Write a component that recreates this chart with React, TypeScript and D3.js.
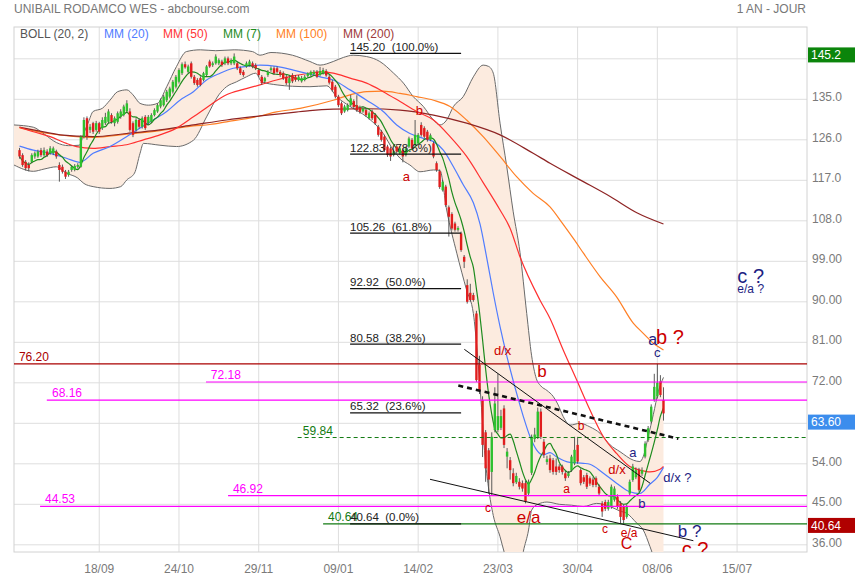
import * as d3 from 'd3';

const FONT = 'Arial, "Liberation Sans", Helvetica, sans-serif';

const dateTicks = [26, 52, 78, 104, 130, 156, 182, 208, 234];
const dateLabels = ['18/09', '24/10', '29/11', '09/01', '14/02', '23/03', '30/04', '08/06', '15/07'];
const priceTicks = [144, 135, 126, 117, 108, 99, 90, 81, 72, 63, 54, 45, 36];

// daily candles: open, high, low, close
const ohlc: number[][] = [
  [123.7,124.2,121.8,122.3],[122.6,123.0,120.0,120.4],[121.1,121.5,119.2,119.7],[120.4,121.0,119.0,119.7],[121.1,123.0,120.8,122.6],
  [122.3,123.4,121.8,123.0],[122.3,123.8,122.0,123.4],[123.7,124.2,122.2,122.6],[122.6,124.3,122.3,123.7],[123.4,123.9,122.2,122.6],
  [123.0,124.6,122.7,124.1],[123.0,124.5,122.6,124.1],[123.4,123.8,121.8,122.3],[120.4,121.0,116.7,119.3],[120.0,120.5,118.5,118.9],
  [118.9,119.3,117.3,117.8],[118.2,119.3,117.8,118.9],[119.3,120.3,118.9,120.0],[119.3,120.6,119.0,120.2],[120.0,120.8,119.6,120.4],
  [120.0,127.0,119.8,126.7],[126.7,131.0,126.3,130.4],[130.8,131.2,126.0,126.7],[128.2,129.5,127.5,128.9],[129.7,130.0,127.3,127.8],
  [128.2,130.2,127.8,129.7],[129.7,130.0,127.3,127.8],[128.6,131.0,128.2,130.4],[129.7,132.0,129.3,131.1],[130.0,132.8,129.7,132.3],
  [131.5,131.9,129.6,130.0],[129.7,131.2,129.0,130.8],[130.0,132.3,129.6,131.9],[131.1,132.8,130.7,132.3],[131.5,133.8,131.2,133.4],
  [132.3,134.8,132.0,134.1],[132.3,133.0,127.8,128.2],[129.7,130.1,126.6,127.1],[128.2,130.8,127.8,130.4],[130.4,130.8,128.5,128.9],
  [128.9,131.2,128.5,130.8],[131.1,131.5,128.2,128.6],[129.7,131.5,129.3,131.1],[130.0,131.9,129.7,131.5],[131.5,133.0,131.2,132.6],
  [132.3,134.1,132.0,133.7],[133.4,135.2,133.0,134.8],[133.7,136.0,133.4,135.6],[134.8,137.1,134.4,136.7],[135.6,137.8,135.2,137.4],
  [136.7,139.3,136.3,138.9],[137.8,140.4,137.4,140.0],[138.9,141.9,138.5,141.5],[140.8,143.2,140.4,142.8],[142.8,143.4,141.8,142.1],
  [141.1,142.7,140.8,142.3],[143.0,143.4,139.6,140.0],[140.0,140.4,138.2,138.6],[139.3,139.7,137.8,138.2],[139.7,140.1,137.9,138.2],
  [139.3,141.1,139.0,140.8],[140.4,142.6,140.0,142.3],[143.4,143.8,142.0,142.3],[142.6,143.4,142.2,143.0],[143.0,145.0,142.7,144.5],
  [143.0,144.1,142.6,143.7],[143.4,143.8,142.2,142.6],[143.0,144.5,142.6,144.1],[144.1,144.5,142.6,143.0],[143.0,144.1,142.6,143.7],
  [143.0,145.2,142.6,144.5],[143.0,143.4,141.5,141.9],[141.9,142.3,140.4,140.8],[141.1,141.5,140.0,140.4],[142.3,143.4,142.0,143.0],
  [142.6,143.8,142.3,143.4],[143.0,143.4,141.9,142.3],[142.6,143.0,141.5,141.9],[141.5,141.9,140.0,140.4],[140.0,140.4,138.2,138.6],
  [139.0,140.0,138.6,139.7],[140.4,141.5,140.0,141.1],[141.5,142.3,141.1,141.9],[141.9,142.3,140.4,140.8],[141.9,142.3,140.7,141.1],
  [141.1,141.5,140.0,140.4],[140.8,141.2,139.3,139.7],[140.0,140.4,138.2,138.6],[138.6,140.1,137.1,139.7],[140.4,140.8,138.6,139.0],
  [140.0,140.4,138.9,139.3],[139.3,140.4,139.0,140.0],[139.0,140.2,138.7,139.7],[139.3,140.4,139.0,140.0],[140.2,141.0,139.9,140.8],
  [140.4,141.4,140.1,141.1],[140.6,141.5,140.3,141.1],[141.1,141.5,139.7,140.0],[140.4,142.2,140.1,141.3],[140.8,142.0,140.5,141.5],
  [141.3,141.7,140.0,140.3],[140.0,140.4,138.3,138.7],[138.9,139.3,136.7,137.1],[137.8,138.2,135.2,135.6],[135.6,136.0,133.3,133.7],
  [134.1,134.5,131.5,131.9],[132.3,133.8,132.0,133.4],[132.6,134.1,132.3,133.7],[133.7,136.0,133.4,135.2],[134.6,135.0,132.9,133.3],
  [133.7,135.9,132.2,132.6],[133.2,133.6,131.8,132.2],[132.3,133.4,132.0,133.0],[132.6,133.0,131.1,131.5],[130.8,132.3,130.5,131.9],
  [132.3,132.7,130.4,130.8],[131.5,131.9,129.3,129.7],[128.9,129.3,126.7,127.1],[127.8,128.2,125.6,126.0],[126.7,127.1,123.3,123.7],
  [124.5,124.9,122.2,122.6],[124.1,124.5,121.3,122.3],[122.6,123.8,122.3,123.4],[124.5,124.9,123.0,123.4],[123.0,124.5,122.7,124.1],
  [123.7,124.1,121.0,122.3],[122.6,124.5,122.3,124.1],[124.5,126.7,124.2,126.3],[126.0,126.4,123.7,124.1],[124.9,130.4,124.6,127.1],
  [125.2,127.5,124.9,127.1],[129.3,129.9,126.7,127.1],[128.6,129.0,126.3,126.7],[127.8,128.2,125.6,126.0],[126.0,127.4,125.7,127.0],
  [125.2,125.6,121.9,122.3],[120.8,121.2,118.9,119.3],[119.0,119.4,115.1,115.5],[114.8,117.1,114.5,116.7],[115.6,116.0,111.1,111.5],
  [111.0,111.4,104.5,108.9],[109.5,109.9,105.9,106.3],[107.4,107.8,105.6,106.0],[106.0,106.8,105.6,106.4],[105.2,105.6,101.1,101.5],
  [100.0,100.4,97.5,98.9],[93.7,95.0,89.6,90.0],[92.0,94.0,90.0,90.4],[91.5,92.0,90.0,90.4],[87.4,88.0,72.2,72.6],
  [76.0,78.0,69.5,70.4],[68.2,69.0,55.5,58.2],[61.0,61.5,50.0,53.0],[57.0,57.5,47.4,50.5],[52.2,61.0,47.0,60.0],
  [61.5,71.0,61.0,67.4],[61.5,74.0,61.0,64.6],[62.0,66.0,61.5,64.6],[66.3,67.0,57.5,58.2],[55.6,57.5,53.0,56.7],
  [54.8,55.5,50.5,52.6],[51.9,53.0,49.0,49.7],[49.9,52.0,49.5,51.3],[50.0,50.8,48.3,48.9],[49.7,50.3,47.8,48.5],
  [49.7,50.2,45.2,45.6],[47.4,50.5,46.8,50.0],[52.0,60.5,51.5,60.0],[59.5,62.0,58.8,60.5],[60.0,66.5,59.5,65.6],
  [65.6,66.3,59.5,60.0],[58.9,59.5,55.3,56.0],[54.4,55.8,53.8,55.0],[55.2,56.0,52.0,52.6],[54.8,55.3,51.6,52.2],
  [53.4,55.2,51.5,52.2],[53.4,53.9,52.0,52.6],[53.4,53.8,51.6,52.2],[51.9,52.4,50.2,50.8],[51.3,52.4,50.9,51.9],
  [52.6,56.0,52.2,55.6],[54.1,60.0,53.7,57.1],[58.2,60.0,54.0,54.5],[52.6,53.0,49.2,49.7],[51.0,51.5,49.5,50.0],
  [51.5,52.0,48.4,48.9],[50.8,51.2,49.1,49.6],[50.5,51.0,48.8,49.3],[50.8,51.2,48.8,49.3],[48.9,49.4,46.9,47.4],
  [45.2,45.7,42.2,43.4],[45.5,46.0,43.5,44.0],[44.0,46.0,43.6,45.5],[44.5,49.4,44.0,48.9],[46.0,49.0,45.6,48.5],
  [46.7,47.2,44.0,44.5],[45.2,45.7,40.8,42.2],[44.5,45.0,40.64,41.5],[42.2,45.0,41.8,44.5],[47.4,50.5,47.0,50.0],
  [50.4,54.0,50.0,53.4],[51.0,53.2,50.6,52.6],[52.6,53.1,47.8,48.2],[51.8,53.2,51.3,52.6],[55.6,59.0,55.2,58.5],
  [59.3,62.4,58.9,61.9],[63.4,67.2,63.0,66.7],[68.2,74.0,67.8,71.1],[69.0,76.2,68.5,72.0],[72.3,73.7,68.8,69.3],
  [68.2,71.0,63.6,65.2],
];
const closes = ohlc.map(d => d[3]);

// indicator curves: [day index, value]
const bollUpper = [
  [-1.8,129.3],[4.5,128.8],[8,127.3],[12,125.4],[16,124.7],[19.5,124.8],[21,127.5],[22.5,130.0],[24,132.3],[27,133.0],
  [29.5,134.8],[32,136.7],[35,137.1],[37,136.0],[39.3,134.1],[42,133.7],[45,134.1],[48,137.8],[51.2,142.3],[54.4,145.6],
  [59,146.0],[64,145.8],[70,146.0],[76,145.6],[78.4,144.8],[82,145.4],[89,144.8],[94.7,143.4],[98,142.6],[102.3,143.4],
  [105.6,144.3],[108.8,144.8],[113.2,144.5],[117.5,143.4],[122,140.8],[125.2,138.6],[128.4,135.6],[131.7,133.4],[135,130.4],
  [137.1,129.3],[139.3,130.4],[141.5,133.4],[144.7,135.6],[148,140.0],[151.2,142.6],[153,142.3],[154.5,140.8],[156.7,129.7],
  [158.9,120.0],[161,110.0],[163.2,101.0],[165.4,87.4],[167,78.0],[168.5,73.0],[170,71.3],[172,70.3],[174,69.0],[175.5,67.3],
  [177.3,64.5],[179.5,62.6],[182.8,63.0],[186,62.2],[189.3,60.8],[192.6,58.2],[195.8,56.7],[200.2,54.8],[202.3,54.5],
  [203.4,55.6],[205,60.0],[206.7,65.0],[208.3,70.0],[210,73.2],
];
const bollLower = [
  [-1.8,120.4],[4.5,119.0],[8,119.5],[12,120.0],[15.3,118.6],[19,117.5],[21,116.3],[24,115.6],[29.5,115.2],[33,115.6],
  [35,117.1],[37.5,118.6],[39.3,123.0],[40.4,125.2],[45.8,124.8],[51.2,124.5],[56.7,125.9],[61,131.1],[65,136.0],[67.5,137.8],
  [70.8,138.9],[74,140.0],[77,140.8],[79,138.9],[84,138.2],[89,137.9],[94.7,137.8],[100.2,138.0],[103.4,135.6],[107.8,133.4],
  [113.2,131.1],[118.6,127.4],[121.9,123.7],[124.1,121.9],[127.3,120.4],[130.6,118.9],[135,119.3],[137.1,119.2],[139.3,110.4],
  [142.6,100.8],[145.8,92.6],[148,87.4],[149.3,78.6],[150.5,68.0],[151.8,55.6],[152.9,48.9],[154.5,42.5],[156.7,37.8],
  [158,34.5],[160,30.5],[162,29.0],[163.5,31.5],[164.3,34.5],[166,39.3],[167,43.7],[169,45.0],[172,45.5],[176,45.0],
  [180,44.8],[183.9,44.5],[188.2,45.2],[192.6,44.5],[195.8,43.5],[198,43.0],[201.3,40.8],[203.4,39.3],[205.6,35.6],
  [207.5,32.0],[210,28.0],
];
const mm20 = [
  [0,124.6],[4.5,123.7],[10,123.0],[15.3,121.9],[19.7,121.0],[24,123.0],[29.5,124.5],[34.9,126.7],[39.3,128.6],[43.6,130.4],
  [48,132.3],[52.3,134.8],[56.7,136.7],[61,139.3],[65.4,140.8],[69.7,141.9],[74,142.3],[78.4,142.6],[83.8,142.3],[89.3,141.5],
  [94.7,140.6],[98,140.0],[102.3,139.3],[107.8,137.1],[113.2,134.8],[118.6,132.3],[123,129.3],[127.3,127.4],[131.7,126.3],
  [135,125.6],[138.2,123.7],[141.5,120.0],[144.7,116.0],[148,112.0],[150.2,107.2],[152.3,100.0],[154.5,91.9],[156.7,84.5],
  [158.9,78.0],[162.1,69.7],[164.3,64.5],[166.5,60.0],[168.6,57.1],[170.8,56.0],[173,56.5],[175.2,55.5],[179.5,54.3],
  [183.9,54.1],[186,53.9],[190.4,51.9],[194.7,49.7],[199,47.8],[202.3,47.4],[205.6,49.5],[208,51.0],[210,53.2],
];
const mm50 = [
  [0,128.8],[4.5,127.8],[10,126.7],[15.3,125.2],[18.6,124.5],[24,124.1],[29.5,124.5],[34.9,124.9],[40.4,126.0],[45.8,127.1],
  [51.2,128.6],[56.7,131.1],[62.1,133.7],[67.5,136.0],[73,137.2],[78.4,138.2],[83.8,139.3],[89.3,140.2],[94.7,140.8],[98,141.1],
  [102.3,140.8],[107.8,139.7],[113.2,138.6],[118.6,136.7],[124.1,134.5],[129.5,132.3],[135,130.4],[140.4,126.7],[145.8,122.3],
  [151.2,116.5],[156.7,110.4],[160,106.3],[163.2,100.0],[169.7,90.4],[173,86.3],[177.3,79.3],[181.7,72.6],[186,66.0],
  [190.4,60.0],[194.7,56.3],[199,53.4],[202.3,52.6],[205.6,52.2],[208.9,52.8],[210,53.4],
];
const mm100 = [
  [0,128.65],[10,127.35],[24,126.55],[34.9,127.25],[45.8,128.05],[56.7,129.1],[62.1,129.4],[67.5,130.0],[78.4,131.3],
  [83.8,132.2],[91.5,133.0],[102.3,134.8],[107.8,136.0],[113.2,136.7],[118.6,136.8],[124.1,136.3],[129.5,135.6],[135,134.8],
  [140.4,133.4],[145.8,130.4],[151.2,126.7],[156.7,122.3],[162.1,117.8],[167.5,114.1],[173,111.1],[177,107.5],[181,103.7],
  [183.9,100.8],[189.3,95.6],[194.7,91.1],[200.2,85.2],[203.4,83.0],[206.7,80.8],[210,79.3],
];
const mm200 = [
  [0,128.8],[10,127.5],[13.2,127.1],[24,126.7],[34.9,127.4],[45.8,128.2],[56.7,129.3],[67.5,130.4],[78.4,131.3],[89.3,132.1],
  [94.7,132.5],[102.3,132.8],[113.2,132.9],[124.1,132.6],[135,131.5],[145.8,129.7],[156.7,127.1],[167.5,123.0],[173,120.8],
  [182.8,117.1],[192.6,113.4],[201.3,109.8],[210,107.3],
];

// horizontal levels: value, line start index, label index
const darkRedLevels = [[76.20, -1.8, -0.2]];
const magentaLevels = [[72.18, 60.8, 62.4], [68.16, 8.9, 10.6], [46.92, 68.0, 69.6], [44.53, 6.7, 8.3]];
const greenDashedLevels = [[59.84, 90.7, 92.4]];
const greenLevels = [[40.64, 99.0, 100.6]];
const fibValues = [145.20, 122.83, 105.26, 92.92, 80.58, 65.32, 40.64];
const fibPercents = ['100.0%', '78.6%', '61.8%', '50.0%', '38.2%', '23.6%', '0.0%'];
const fibSpan = [107.8, 144.0];

// trend lines: [[i0, v0], [i1, v1]]
const trendLines = [
  [[145.05, 79.44], [205.65, 49.67]],
  [[133.86, 50.56], [219.74, 36.91]],
];
const dashedTrend = [[143.09, 71.4], [214.85, 59.58]];

// wave count labels: text, index, value (baseline), font size, colour key
const waveLabels: [string, number, number, number, string][] = [
  ['a', 124.96, 116.9, 13, 'r'],
  ['b', 129.2, 131.5, 13, 'r'],
  ['d/x', 154.74, 78.18, 13, 'r'],
  ['b', 168.86, 73.36, 17, 'r'],
  ['b', 182.03, 61.51, 12, 'r'],
  ['a', 177.34, 47.44, 12, 'r'],
  ['c', 151.8, 43.36, 12, 'r'],
  ['e/a', 162.14, 40.78, 17, 'r'],
  ['d/x', 192.01, 51.73, 13, 'r'],
  ['c', 189.96, 38.69, 12, 'r'],
  ['e/a', 196.06, 37.8, 12, 'r'],
  ['C', 196.06, 35.0, 16, 'r'],
  ['a', 205.06, 80.4, 16, 'n'],
  ['b ?', 207.57, 80.62, 20, 'r'],
  ['c ?', 215.95, 33.51, 20, 'r'],
  ['c', 206.92, 77.67, 13, 'n'],
  ['a', 198.86, 55.58, 13, 'n'],
  ['d/x ?', 209.95, 50.02, 13, 'n'],
  ['b', 201.8, 44.11, 13, 'n'],
  ['b ?', 214.65, 37.67, 17, 'n'],
  ['c ?', 234.09, 94.11, 20, 'n'],
  ['e/a ?', 234.09, 91.89, 12, 'n'],
];

const priceTags: [number, string, string][] = [
  [145.2, '145.2', '#0b850b'],
  [63.6, '63.60', '#3c8ded'],
  [40.64, '40.64', '#b00000'],
];

const legend: [string, string][] = [
  ['BOLL (20, 2)', '#555'],
  ['MM (20)', '#4f7cff'],
  ['MM (50)', '#ff3535'],
  ['MM (7)', '#1e8b1e'],
  ['MM (100)', '#ff7f24'],
  ['MM (200)', '#a03a3a'],
];
const legendX = [20, 104, 163, 223, 276, 343];

const COL = {
  grid: '#dedede',
  axis: '#7a7a7a',
  band: '#fcebdf',
  bandEdge: '#6a6a6a',
  up: '#2ec02e',
  down: '#e11d1d',
  wick: '#4a4a4a',
  red: '#cc0000',
  navy: '#1e1e82',
  magenta: '#ff00ff',
  green: '#127a12',
  darkRed: '#aa0000',
};

export default function App() {
  const x = d3.scaleLinear().domain([-1.8, 256.8]).range([14, 807]);
  const y = d3.scaleLinear().domain([34.4, 151.07]).range([552, 27]);
  const curve = d3.line<number[]>().x(d => x(d[0])).y(d => y(d[1])).curve(d3.curveMonotoneX);
  const straight = d3.line<number[]>().x(d => x(d[0])).y(d => y(d[1]));

  const mm7 = closes.map((_, i) => [i, d3.mean(closes.slice(Math.max(0, i - 6), i + 1)) as number]);
  const bandPath = (curve(bollUpper) || '') + (curve([...bollLower].reverse()) || '').replace(/^M/, 'L') + 'Z';

  const xMax = x.domain()[1];
  const bw = 2.4;

  return (
    <div style={{ position: 'absolute', left: 0, top: 0 }}>
      <svg width={855} height={580} style={{ display: 'block', fontFamily: FONT }}>
        <rect x={0} y={0} width={855} height={580} fill="#fff" />
        <defs>
          <clipPath id="plot">
            <rect x={14} y={27} width={793} height={525} />
          </clipPath>
        </defs>

        {/* grid */}
        {priceTicks.map(v => (
          <line key={'h' + v} x1={14} x2={807} y1={y(v)} y2={y(v)} stroke={COL.grid} />
        ))}
        {dateTicks.map(i => (
          <line key={'v' + i} x1={x(i)} x2={x(i)} y1={27} y2={552} stroke={COL.grid} />
        ))}
        <rect x={14} y={27} width={793} height={525} fill="none" stroke="#d2d2d2" />

        <g clipPath="url(#plot)">
          <path d={bandPath} fill={COL.band} stroke="none" />
          <path d={curve(bollUpper) || ''} fill="none" stroke={COL.bandEdge} strokeWidth={1} />
          <path d={curve(bollLower) || ''} fill="none" stroke={COL.bandEdge} strokeWidth={1} />

          <path d={curve(mm100) || ''} fill="none" stroke="#ff7f24" strokeWidth={1.2} />
          <path d={curve(mm200) || ''} fill="none" stroke="#8e2424" strokeWidth={1.2} />
          <path d={curve(mm50) || ''} fill="none" stroke="#ff3030" strokeWidth={1.2} />
          <path d={curve(mm20) || ''} fill="none" stroke="#4f7cff" strokeWidth={1.2} />
          <path d={curve(mm7) || ''} fill="none" stroke="#1e8b1e" strokeWidth={1.2} />

          {ohlc.map((d, i) => {
            const [o, h, l, c] = d;
            const top = y(Math.max(o, c));
            const hgt = Math.max(1, Math.abs(y(o) - y(c)));
            return (
              <g key={'c' + i}>
                <line x1={x(i)} x2={x(i)} y1={y(h)} y2={y(l)} stroke={COL.wick} strokeWidth={0.9} />
                <rect x={x(i) - bw / 2} y={top} width={bw} height={hgt} fill={c >= o ? COL.up : COL.down} />
              </g>
            );
          })}

          {/* levels */}
          {darkRedLevels.map(([v, s, t]) => (
            <g key={'dr' + v}>
              <line x1={x(s)} x2={x(xMax)} y1={y(v)} y2={y(v)} stroke={COL.darkRed} strokeWidth={1.2} />
              <text x={x(t)} y={y(v) - 3} fontSize={12} fill={COL.darkRed}>{v.toFixed(2)}</text>
            </g>
          ))}
          {magentaLevels.map(([v, s, t]) => (
            <g key={'mg' + v}>
              <line x1={x(s)} x2={x(xMax)} y1={y(v)} y2={y(v)} stroke={COL.magenta} strokeWidth={1.2} />
              <text x={x(t)} y={y(v) - 3} fontSize={12} fill={COL.magenta}>{v.toFixed(2)}</text>
            </g>
          ))}
          {greenDashedLevels.map(([v, s, t]) => (
            <g key={'gd' + v}>
              <line x1={x(s)} x2={x(xMax)} y1={y(v)} y2={y(v)} stroke={COL.green} strokeWidth={1} strokeDasharray="4,3" />
              <text x={x(t)} y={y(v) - 3} fontSize={12} fill={COL.green}>{v.toFixed(2)}</text>
            </g>
          ))}
          {greenLevels.map(([v, s, t]) => (
            <g key={'g' + v}>
              <line x1={x(s)} x2={x(xMax)} y1={y(v)} y2={y(v)} stroke={COL.green} strokeWidth={1.2} />
              <text x={x(t)} y={y(v) - 3} fontSize={12} fill={COL.green}>{v.toFixed(2)}</text>
            </g>
          ))}
          {fibValues.map((v, k) => (
            <g key={'f' + v}>
              <line x1={x(fibSpan[0])} x2={x(fibSpan[1])} y1={y(v)} y2={y(v)} stroke="#111" strokeWidth={1.2} />
              <text x={x(fibSpan[0])} y={y(v) - 2.5} fontSize={11.5} fill="#222" style={{ whiteSpace: 'pre' }}>
                {`${v.toFixed(2)}  (${fibPercents[k]})`}
              </text>
            </g>
          ))}

          {trendLines.map((t, k) => (
            <path key={'t' + k} d={straight(t) || ''} stroke="#111" strokeWidth={1} fill="none" />
          ))}
          <path d={straight(dashedTrend) || ''} stroke="#111" strokeWidth={2.6} strokeDasharray="5,4" fill="none" />

          {waveLabels.map(([t, i, v, s, c], k) => (
            <text key={'w' + k} x={x(i)} y={y(v)} fontSize={s} fill={c === 'r' ? COL.red : COL.navy} style={{ whiteSpace: 'pre' }}>
              {t}
            </text>
          ))}
        </g>

        {/* right axis */}
        {priceTicks.map(v => (
          <text key={'yl' + v} x={812} y={y(v) + 2} fontSize={12} fill={COL.axis}>
            {v >= 100 ? v.toFixed(1) : v.toFixed(2)}
          </text>
        ))}
        {priceTags.map(([v, t, c]) => (
          <g key={'tag' + t}>
            <rect x={808} y={y(v) + 1.5 - 7.5} width={47} height={15} fill={c} />
            <text x={811} y={y(v) + 1.5 + 4.3} fontSize={12} fill="#fff">{t}</text>
          </g>
        ))}

        {/* bottom axis */}
        {dateTicks.map((i, k) => (
          <text key={'xl' + i} x={x(i)} y={573} fontSize={12} fill={COL.axis} textAnchor="middle">
            {dateLabels[k]}
          </text>
        ))}

        {/* title + legend */}
        <text x={14} y={13} fontSize={12} fill="#777">UNIBAIL RODAMCO WES - abcbourse.com</text>
        <text x={806} y={13} fontSize={12} fill="#777" textAnchor="end">1 AN - JOUR</text>
        {legend.map(([t, c], k) => (
          <text key={'lg' + k} x={legendX[k]} y={38} fontSize={12} fill={c}>{t}</text>
        ))}
      </svg>
    </div>
  );
}
